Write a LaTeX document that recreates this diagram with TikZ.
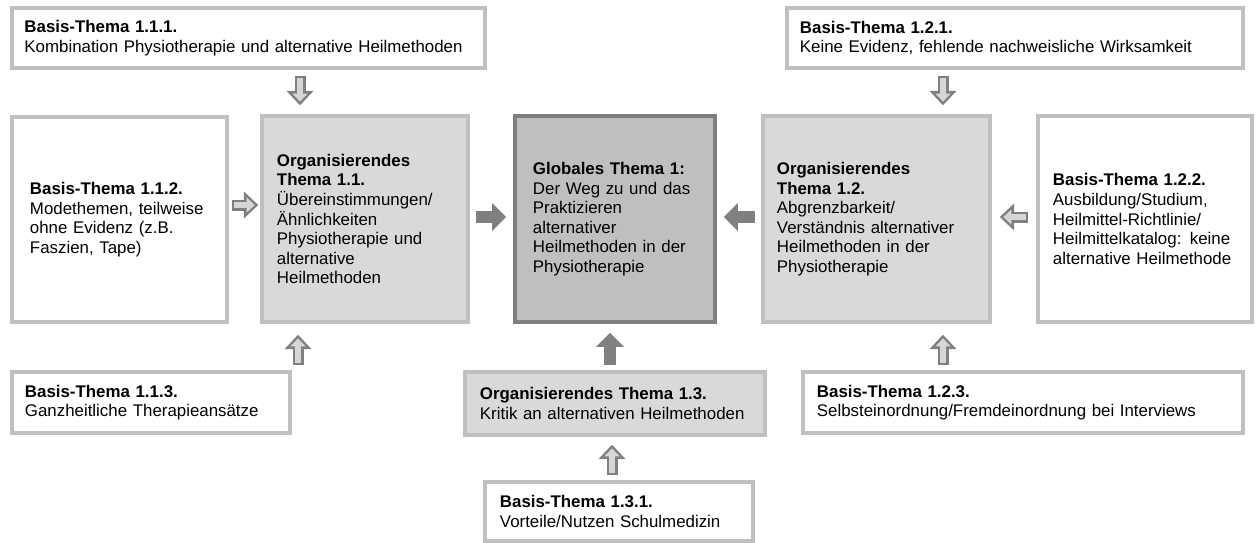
\documentclass[tikz,border=0pt]{standalone}
\usepackage{fontspec}
\setmainfont{Liberation Sans}
\usetikzlibrary{arrows.meta,calc}

\definecolor{boxline}{HTML}{C0C0C0}
\definecolor{orgfill}{HTML}{D9D9D9}
\definecolor{globfill}{HTML}{BFBFBF}
\definecolor{globline}{HTML}{7F7F7F}
\definecolor{arrgray}{HTML}{808080}
\definecolor{arrlight}{HTML}{D6D6D6}

\tikzset{
	thema/.style={draw, line width=0.0875cm, inner sep=0pt, align=left, font=\fontsize{12}{13.9}\selectfont},
	basisbox/.style={thema, draw=boxline, fill=white},
	orgbox/.style={thema, draw=boxline, fill=orgfill},
	globbox/.style={thema, draw=globline, fill=globfill},
	fillarr/.style 2 args={draw=arrgray, line width=0.3cm, shorten <=#1, shorten >=#2,
		-{Triangle[length=0.35cm, width=0.7cm, line width=0pt]}},
	openarr/.style 2 args={draw=arrgray, line width=0.275cm, shorten <=#1, shorten >=#2,
		-{Triangle[length=0.36cm, width=0.68cm, line width=0pt]},
		postaction={draw=arrlight, line width=0.13cm, shorten <=#1+0.065cm, shorten >=#2+0.09cm,
		-{Triangle[length=0.2cm, width=0.38cm, line width=0pt]}}}
}

\begin{document}
\begin{tikzpicture}[x=0.025cm, y=-0.025cm]
	\useasboundingbox (0,0) rectangle (1258,542);
	% top row
	\node[basisbox, minimum width=11.825cm, minimum height=1.5cm, text width=11.2cm] (b111) at (248.5,38)
		{\textbf{Basis-Thema 1.1.1.}\\Kombination Physiotherapie und alternative Heilmethoden};
	\node[basisbox, minimum width=11.4cm, minimum height=1.5cm, text width=10.75cm] (b121) at (1015,38)
		{\textbf{Basis-Thema 1.2.1.}\\Keine Evidenz, fehlende nachweisliche Wirksamkeit};
	% middle row
	\node[basisbox, minimum width=5.375cm, minimum height=5.125cm, text width=4.475cm] (b112) at (119.5,219.5)
		{\textbf{Basis-Thema 1.1.2.}\\Modethemen, teilweise\\ohne Evidenz (z.B.\\Faszien, Tape)};
	\node[orgbox, minimum width=5.15cm, minimum height=5.15cm, text width=4.4cm] (org11) at (365,219)
		{\textbf{Organisierendes\\Thema 1.1.}\\Übereinstimmungen/\\Ähnlichkeiten\\Physiotherapie und\\alternative\\Heilmethoden};
	\node[globbox, minimum width=5cm, minimum height=5.15cm, text width=4.1cm] (glob) at (615,219)
		{\textbf{Globales Thema 1:}\\Der Weg zu und das\\Praktizieren\\alternativer\\Heilmethoden in der\\Physiotherapie};
	\node[orgbox, minimum width=5.675cm, minimum height=5.15cm, text width=4.975cm] (org12) at (876.5,219)
		{\textbf{Organisierendes\\Thema 1.2.}\\Abgrenzbarkeit/\\Verständnis alternativer\\Heilmethoden in der\\Physiotherapie};
	\node[basisbox, minimum width=5.35cm, minimum height=5.15cm, text width=4.6cm] (b122) at (1145,219)
		{\textbf{Basis-Thema 1.2.2.}\\Ausbildung/Studium,\\Heilmittel-Richtlinie/\\Heilmittelkatalog: keine\\alternative Heilmethode};
	% bottom rows
	\node[basisbox, minimum width=6.95cm, minimum height=1.525cm, text width=6.3cm] (b113) at (151,402.5)
		{\textbf{Basis-Thema 1.1.3.}\\Ganzheitliche Therapieansätze};
	\node[orgbox, minimum width=7.5cm, minimum height=1.575cm, text width=6.75cm] (org13) at (615,403.5)
		{\textbf{Organisierendes Thema 1.3.}\\Kritik an alternativen Heilmethoden};
	\node[basisbox, minimum width=11cm, minimum height=1.525cm, text width=10.3cm] (b123) at (1023,402.5)
		{\textbf{Basis-Thema 1.2.3.}\\Selbsteinordnung/Fremdeinordnung bei Interviews};
	\node[basisbox, minimum width=6.7cm, minimum height=1.475cm, text width=5.95cm] (b131) at (619,511.5)
		{\textbf{Basis-Thema 1.3.1.}\\Vorteile/Nutzen Schulmedizin};
	% arrow axes
	\coordinate (ax1) at (300,0);
	\coordinate (ax2) at (943,0);
	\coordinate (ax3) at (298,0);
	\coordinate (ax4) at (610,0);
	\coordinate (ax5) at (612,0);
	\coordinate (ay1) at (0,205);
	\coordinate (ay2) at (0,217);
	% arrows
	\draw[openarr={0.15cm}{0.225cm}] (b111.south -| ax1) -- (org11.north -| ax1);
	\draw[openarr={0.15cm}{0.225cm}] (b121.south -| ax2) -- (org12.north -| ax2);
	\draw[openarr={0.075cm}{0.05cm}] (b112.east |- ay1) -- (org11.west |- ay1);
	\draw[fillarr={0.15cm}{0.175cm}] (org11.east |- ay2) -- (glob.west |- ay2);
	\draw[fillarr={0.15cm}{0.175cm}] (org12.west |- ay2) -- (glob.east |- ay2);
	\draw[openarr={0.2cm}{0.2cm}] (b122.west |- ay2) -- (org12.east |- ay2);
	\draw[openarr={0.125cm}{0.275cm}] (b113.north -| ax3) -- (org11.south -| ax3);
	\draw[fillarr={0.125cm}{0.225cm}] (org13.north -| ax4) -- (glob.south -| ax4);
	\draw[openarr={0.125cm}{0.2cm}] (b131.north -| ax5) -- (org13.south -| ax5);
	\draw[openarr={0.125cm}{0.275cm}] (b123.north -| ax2) -- (org12.south -| ax2);
\end{tikzpicture}
\end{document}
